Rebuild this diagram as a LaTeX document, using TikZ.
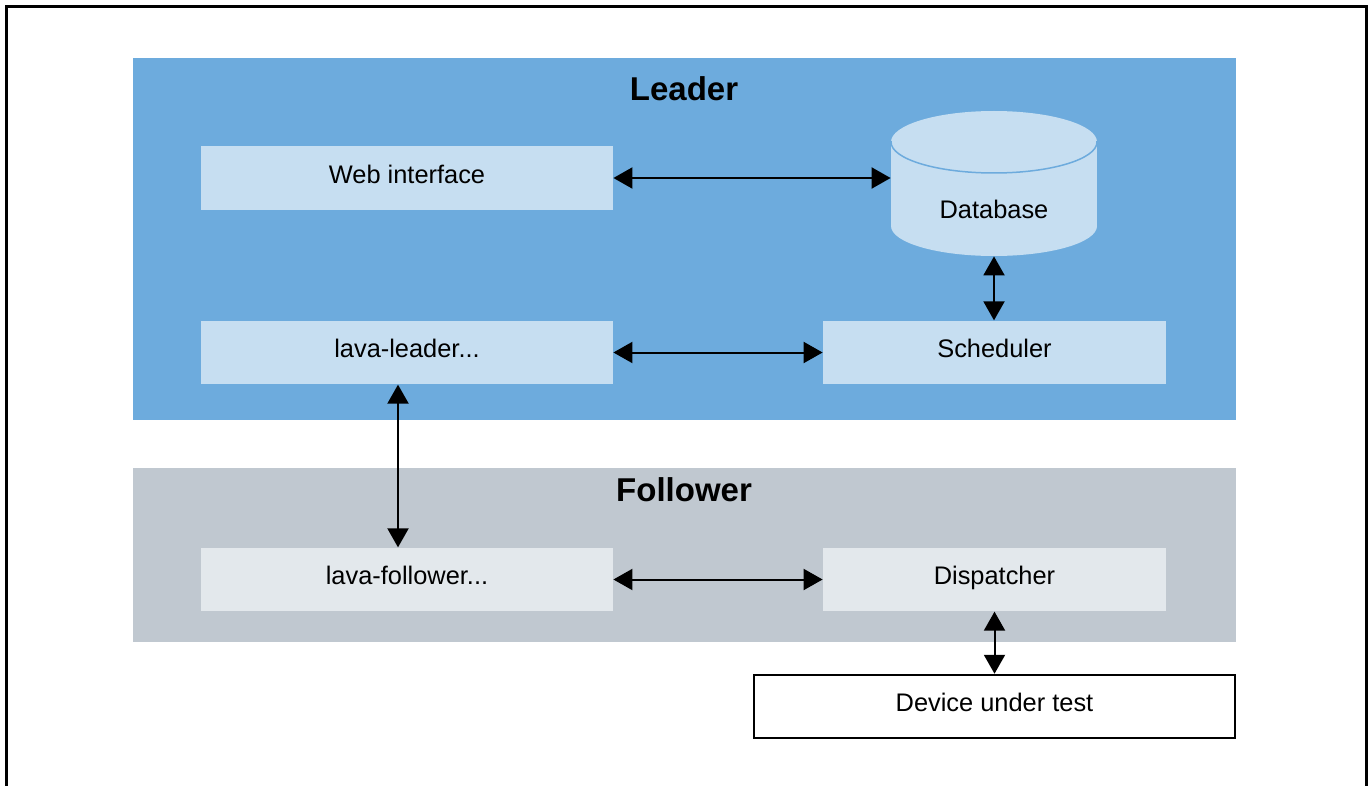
\documentclass[tikz,border=0pt]{standalone}
\usepackage{fontspec}
\setmainfont{Liberation Sans}
\usepackage{tikz}
\usetikzlibrary{arrows.meta}
\definecolor{leaderblue}{RGB}{109,171,221}
\definecolor{leaderpale}{RGB}{198,222,241}
\definecolor{followergray}{RGB}{192,200,208}
\definecolor{followerpale}{RGB}{227,232,236}
\tikzset{>={Triangle[length=9.5pt,width=10.5pt]}}
\tikzset{
  zone/.style={
    inner sep=0pt,
    minimum width=551.5pt,
    fill=#1
  }}
\tikzset{
  part/.style={
    inner sep=0pt,
    minimum height=31.75pt,
    text height=9pt,
    text depth=3.8pt,
    font=\fontsize{12.7}{15}\selectfont,
    fill=#1
  }}
\tikzset{
  heading/.style={font=\fontsize{16.5}{20}\selectfont\bfseries}}
\tikzset{
  link/.style={<->,line width=1pt}}

\begin{document}
\begin{tikzpicture}[x=0.5pt,y=-0.5pt]
    \useasboundingbox (0,0) rectangle (1369,786);
    \draw[line width=1.25pt] (6.5,800) -- (6.5,6.5) -- (1366.5,6.5) -- (1366.5,800);
    \node[zone=leaderblue,minimum height=181pt] (leaderzone) at (684.5,239) {};
    \node[zone=followergray,minimum height=87pt] (followerzone) at (684.5,555) {};
    \node[heading] (leadertitle) at (684,89) {Leader};
    \node[heading] (followertitle) at (684,490) {Follower};
    \begin{scope}
        \fill[leaderpale] (891,142) rectangle (1097,226);
        \fill[leaderpale] (994,226) ellipse [x radius=103,y radius=30];
        \fill[leaderpale] (994,142) ellipse [x radius=103,y radius=31];
        \clip (885,142) rectangle (1105,180);
        \draw[leaderblue,line width=0.75pt] (994,142) ellipse [x radius=103,y radius=31];
    \end{scope}
    \node[part=none,minimum width=103pt,minimum height=43pt] (db) at (994,213) {Database};
    \node[part=leaderpale,minimum width=206pt] (web) at (407,178) {Web interface};
    \node[part=leaderpale,minimum width=206pt] (lleader) at (407,352.5) {lava-leader...};
    \node[part=leaderpale,minimum width=171.5pt] (sched) at (994.5,352.5) {Scheduler};
    \node[part=followerpale,minimum width=206pt] (lfollower) at (407,579.5) {lava-follower...};
    \node[part=followerpale,minimum width=171.5pt] (disp) at (994.5,579.5) {Dispatcher};
    \node[part=white,draw,line width=1pt,minimum width=240.5pt] (dut) at (994.5,706.5) {Device under test};
    \draw[link] (web.east) -- (web.east -| db.west);
    \draw[link] (db.south) -- (db.south |- sched.north);
    \draw[link] (lleader.east) -- (sched.west);
    \draw[link] ([xshift=-4.5pt]lleader.south) -- ([xshift=-4.5pt]lfollower.north);
    \draw[link] (lfollower.east) -- (disp.west);
    \draw[link] (disp.south) -- (disp.south |- dut.north);
\end{tikzpicture}
\end{document}
